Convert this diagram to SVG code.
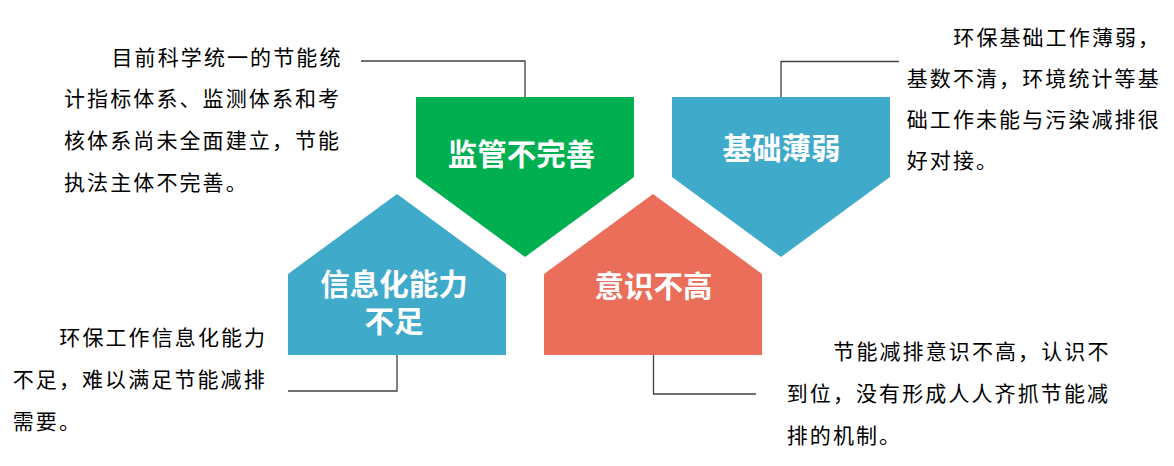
<svg xmlns="http://www.w3.org/2000/svg" width="1174" height="466" viewBox="0 0 1174 466">
<style>
.body{font-family:"Noto Sans CJK SC","Noto Sans",sans-serif;font-size:21px;letter-spacing:2.1px;fill:#000}
.lbl{font-family:"Noto Sans CJK SC","Noto Sans",sans-serif;font-size:29.5px;font-weight:bold;fill:#fff;text-anchor:middle}
.conn{fill:none;stroke:#404040;stroke-width:1.3}
</style>
<rect width="1174" height="466" fill="#fff"/>
<g id="connectors">
<polyline class="conn" points="361,61 525,61 525,97"/>
<polyline class="conn" points="899,61.5 781,61.5 781,97"/>
<polyline class="conn" points="288,391 397,391 397,355"/>
<polyline class="conn" points="756,394 653.5,394 653.5,355"/>
</g>
<g id="node-jianguan">
<polygon points="416,97 634,97 634,177 525,257 416,177" fill="#00B050"/>
<text class="lbl" x="521.5" y="164.5">监管不完善</text>
</g>
<g id="node-jichu">
<polygon points="672,97 890,97 890,177 781,257 672,177" fill="#3FAACA"/>
<text class="lbl" x="781.5" y="158.5">基础薄弱</text>
</g>
<g id="node-xinxihua">
<polygon points="397,194 506,274 506,355 288,355 288,274" fill="#3FAACA"/>
<text class="lbl" x="394" y="295">信息化能力</text>
<text class="lbl" x="394" y="332">不足</text>
</g>
<g id="node-yishi">
<polygon points="653,194 762,274 762,355 544,355 544,274" fill="#EB6E5B"/>
<text class="lbl" x="653.5" y="296.5">意识不高</text>
</g>
<g id="text-jianguan">
<text class="body" x="111.5" y="64.5">目前科学统一的节能统</text>
<text class="body" x="64" y="106.2">计指标体系、监测体系和考</text>
<text class="body" x="64" y="147.9">核体系尚未全面建立，节能</text>
<text class="body" x="64" y="189.6">执法主体不完善。</text>
</g>
<g id="text-jichu">
<text class="body" x="953.3" y="44.5">环保基础工作薄弱，</text>
<text class="body" x="906.7" y="85.8">基数不清，环境统计等基</text>
<text class="body" x="906.7" y="127.1">础工作未能与污染减排很</text>
<text class="body" x="906.7" y="168.4">好对接。</text>
</g>
<g id="text-xinxihua">
<text class="body" x="59.3" y="344.5">环保工作信息化能力</text>
<text class="body" x="12.7" y="386.5">不足，难以满足节能减排</text>
<text class="body" x="12.7" y="428.5">需要。</text>
</g>
<g id="text-yishi">
<text class="body" x="833.3" y="359">节能减排意识不高，认识不</text>
<text class="body" x="786.7" y="401">到位，没有形成人人齐抓节能减</text>
<text class="body" x="786.7" y="442.5">排的机制。</text>
</g>
</svg>
